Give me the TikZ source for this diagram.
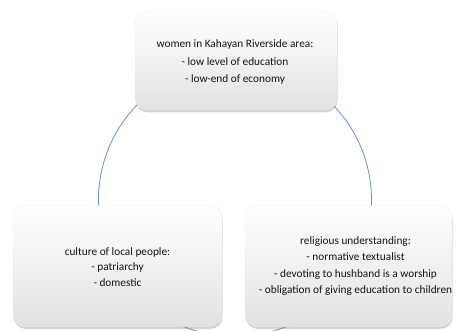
\documentclass[tikz,border=0pt]{standalone}
\usepackage{fontspec}
\setmainfont{Carlito}
\usetikzlibrary{shadows, positioning}
\definecolor{cycleBlue}{HTML}{6690DA}
\definecolor{boxBottom}{HTML}{E2E2E2}
\definecolor{boxEdge}{HTML}{EDEDED}
\definecolor{textDark}{HTML}{141414}

\begin{document}
\begin{tikzpicture}[x=1pt, y=-1pt,
    infobox/.style={rounded corners=12pt, top color=white, bottom color=boxBottom,
      draw=boxEdge, inner sep=0pt,
      drop shadow={opacity=0.35, shadow xshift=0.6pt, shadow yshift=-2.4pt}},
    infotext/.style={align=center, text=textDark, font=\fontsize{11.3}{16.2}\selectfont}]
  \useasboundingbox (0,0) rectangle (457,331);

  % the cycle behind the three boxes
  \coordinate (hub) at (235,200);
  \draw[cycleBlue, line width=0.8pt] (hub) circle[radius=136.5];

  % boxes
  \node[infobox, minimum width=202pt, minimum height=98pt] (women) at (236,61) {};
  \node[infobox, minimum width=209pt, minimum height=121pt] (culture) at (117.5,266) {};
  \node[infobox, minimum width=207pt, minimum height=121pt] (religion) at (348.5,266) {};

  \node[infotext, font=\fontsize{11.3}{17.5}\selectfont] (womenText) at ([xshift=-1pt, yshift=-1pt]women.center)
    {women in Kahayan Riverside area:\\- low level of education\\- low-end of economy};
  \node[infotext, font=\fontsize{11.3}{15.5}\selectfont] (cultureText) at ([yshift=-1pt]culture.center)
    {culture of local people:\\- patriarchy\\- domestic};
  \node[infotext] (religionText) at ([xshift=7pt]religion.center)
    {religious understanding:\\- normative textualist\\- devoting to hushband is a worship\\- obligation of giving education to children};
\end{tikzpicture}
\end{document}
